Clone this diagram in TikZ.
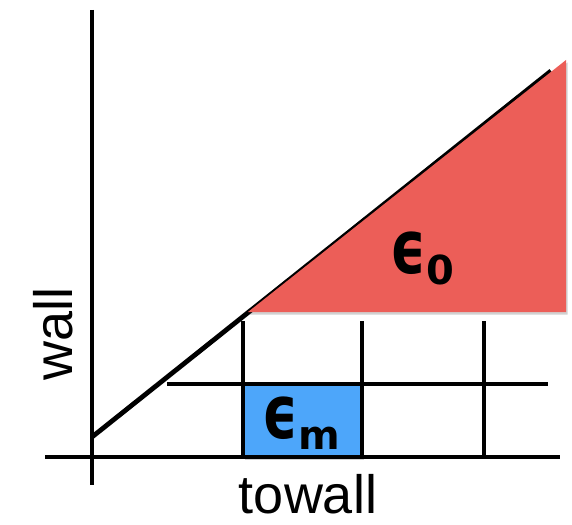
\documentclass[tikz,border=0pt]{standalone}
\usepackage{fontspec}
\setmainfont{Liberation Sans}
\newfontfamily\epsfont{DejaVu Sans}
\usetikzlibrary{shadows}
\definecolor{regionred}{HTML}{EC5E58}
\definecolor{regionblue}{HTML}{4DA6FA}
\newcommand{\epsof}[1]{\scalebox{0.9}[1.2]{\fontsize{62}{66}\selectfont ϵ}\raisebox{-11pt}{\fontsize{40}{44}\selectfont #1}}

\begin{document}
\begin{tikzpicture}[x=1pt, y=-1pt, line width=4.8pt,
    axislabel/.style={font=\fontsize{54}{58}\selectfont, inner sep=0pt},
    epslabel/.style={font=\epsfont\bfseries, inner sep=0pt},
    shade/.style={drop shadow={shadow xshift=1.5pt, shadow yshift=-2.5pt, opacity=0.18, fill=black}}]
    \useasboundingbox (0,0) rectangle (572,524);

    % --- Cellule e_m (sous la grille) ---
    \fill[regionblue, shade] (243,384) rectangle (362,457);

    % --- Grille ---
    \foreach \gx in {243, 362, 484}
        \draw (\gx,321) -- (\gx,459);
    \draw (167,384) -- (548,384);

    % --- Axes ---
    \coordinate (O) at (92,457);
    \draw (92,10) -- (92,485);
    \draw (45,457) -- (560,457);

    % Diagonale
    \coordinate (start) at (92,437);
    \coordinate (stop) at (551,71);
    \draw (start) -- (stop);

    % --- Region e_0 ---
    \fill[regionred, shade] (248,312) -- (566,312) -- (566,60) -- cycle;

    % --- Etiquettes ---
    \node[axislabel, rotate=90] (wall) at (53,334) {wall};
    \node[axislabel] (towall) at (308,494) {towall};
    \node[epslabel] (e0) at (422,258) {\epsof{0}};
    \node[epslabel] (em) at (301,423) {\epsof{m}};
\end{tikzpicture}
\end{document}
